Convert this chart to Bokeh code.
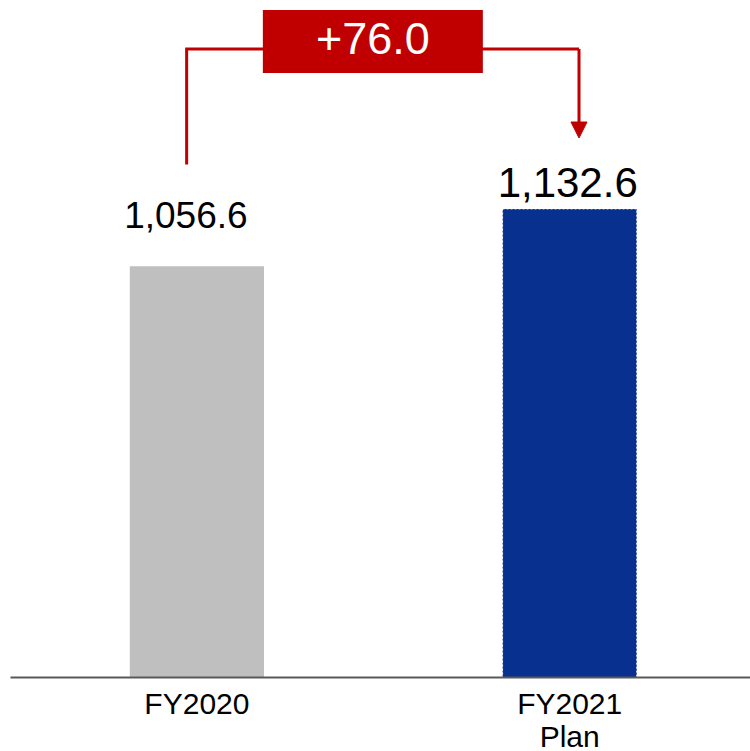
from bokeh.plotting import figure
from bokeh.models import Range1d, LinearAxis, FixedTicker, ColumnDataSource, CDSView, IndexFilter, Arrow, NormalHead
from bokeh.core.properties import value
from bokeh.embed import file_html
from bokeh.resources import INLINE

# ---- data ----
categories = ["FY2020", "FY2021\nPlan"]
values = [1056.6, 1132.6]
value_labels = ["1,056.6", "1,132.6"]
bar_colors = ["#BFBFBF", "#08318F"]

# ---- style ----
FONT = value("Liberation Sans")
RED = "#C00000"
label_sizes = ["37px", "42px"]
label_dx = [-11, -2]
label_dy = [-51, -26]

xs = [i + 0.5 for i in range(len(categories))]
delta = values[1] - values[0]

p = figure(frame_width=740, frame_height=677, output_backend="svg", toolbar_location=None,
           x_range=Range1d(0, 1.985), y_range=Range1d(511, 1409),
           x_axis_type=None, y_axis_type=None,
           min_border_left=10, min_border_right=0, min_border_top=0, min_border_bottom=0)
p.outline_line_color = None
p.background_fill_color = "white"
p.border_fill_color = "white"

src = ColumnDataSource(dict(x=xs, top=values, color=bar_colors, lab=value_labels,
                            size=label_sizes, dx=label_dx, dy=label_dy))
p.vbar(x="x", top="top", bottom=0, width=0.36, fill_color="color", line_color=None, source=src)
# dashed outline on the plan bar
p.vbar(x="x", top="top", bottom=0, width=0.36, fill_alpha=0, line_color="white",
       line_width=1, line_dash="2 2", source=src, view=CDSView(filter=IndexFilter([1])))

p.text(x="x", y="top", text="lab", text_font=FONT, text_font_size="size",
       text_align="center", text_baseline="alphabetic", x_offset="dx", y_offset="dy",
       text_color="black", source=src)

# bracket annotation
x0 = xs[0] - 0.0275
x1 = xs[1] + 0.025
ytop = max(values) + 212
p.line(x=[x0, x0, x1], y=[values[0] + 135, ytop, ytop], line_color=RED, line_width=3,
       line_join="miter")
p.add_layout(Arrow(end=NormalHead(size=16, fill_color=RED, line_color=RED, line_width=1),
                   x_start=x1, y_start=ytop, x_end=x1, y_end=values[1] + 94,
                   line_color=RED, line_width=3))
bx = (xs[0] + xs[1]) / 2 - 0.028
p.rect(x=[bx], y=[ytop + 10], width=220, height=63, width_units="screen", height_units="screen",
       fill_color=RED, line_color=None)
p.text(x=[bx], y=[ytop + 10], text=["+{:.1f}".format(delta)], text_font=FONT, text_font_size="45px",
       text_align="center", text_baseline="middle", text_color="white", y_offset=-3)

ax = LinearAxis(ticker=FixedTicker(ticks=xs),
                major_label_overrides={x: c for x, c in zip(xs, categories)})
ax.axis_line_color = "#595959"
ax.axis_line_width = 2
ax.major_tick_line_color = None
ax.minor_tick_line_color = None
ax.major_tick_out = 0
ax.major_tick_in = 0
ax.major_label_text_font = "Liberation Sans"
ax.major_label_text_font_size = "30px"
ax.major_label_text_color = "black"
ax.major_label_text_line_height = 1.0
ax.major_label_standoff = 9
p.add_layout(ax, "below")

open("out.html", "w").write(file_html(p, INLINE))
